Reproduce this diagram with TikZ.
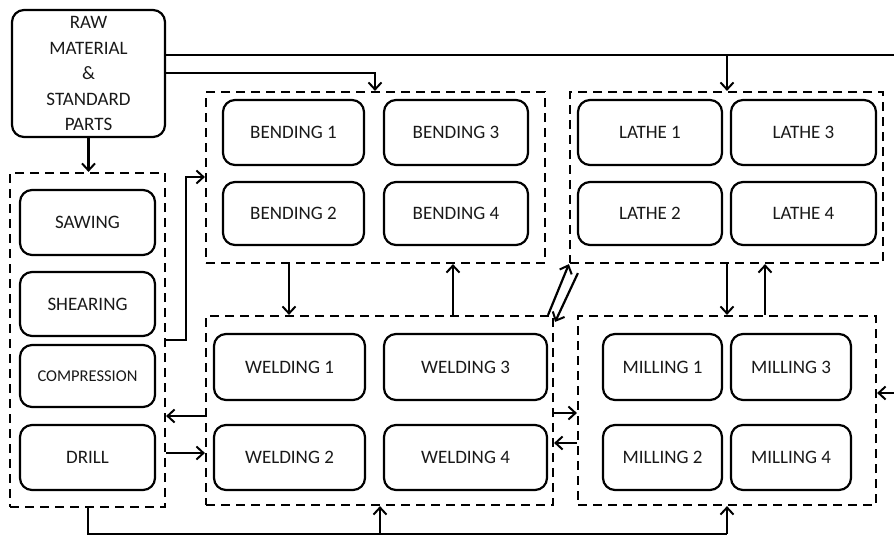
\documentclass[tikz,border=0pt]{standalone}
\usepackage{fontspec}
\setmainfont{Carlito}
\usetikzlibrary{arrows.meta}
\newcommand\mybox[6]{%
  \node[box, minimum width={(#4-#2)*1pt}, minimum height={(#5-#3)*1pt}] (#1) at ({(#2+#4)/2},{(#3+#5)/2}) {#6};}
\newcommand\mygrp[5]{%
  \node[grp, minimum width={(#4-#2)*1pt}, minimum height={(#5-#3)*1pt}] (#1) at ({(#2+#4)/2},{(#3+#5)/2}) {};}
\tikzset{
  box/.style={draw, line width=2.2pt, rounded corners=12pt, align=center, inner sep=0pt,
    text=black!90, font=\fontsize{19}{25.5}\selectfont},
  grp/.style={draw, line width=2.2pt, dash pattern=on 9pt off 6pt, inner sep=0pt},
  ln/.style={line width=2.2pt},
  arr/.style={line width=2.2pt, -{Straight Barb[length=7pt,width=13pt,line width=2pt]}},
}
\begin{document}
\begin{tikzpicture}[x=1pt,y=-1pt]
\useasboundingbox (0,0) rectangle (894,538);
% groups
\mygrp{L}{10}{173}{165}{507}
\mygrp{B}{206}{92}{545}{263}
\mygrp{T}{570}{92}{883}{263}
\mygrp{W}{206}{316}{553}{505}
\mygrp{M}{578}{316}{876}{505}
% raw material
\mybox{R}{12}{10}{165}{137}{RAW\\MATERIAL\\\&\\STANDARD\\PARTS}
% left column
\mybox{saw}{20}{190}{155}{255}{SAWING}
\mybox{shear}{20}{272}{155}{336}{SHEARING}
\mybox{comp}{20}{345}{155}{407}{\fontsize{16.5}{20}\selectfont COMPRESSION}
\mybox{drill}{20}{425}{155}{490}{DRILL}
% bending
\mybox{b1}{223}{100}{364}{165}{BENDING 1}
\mybox{b3}{384}{100}{528}{165}{BENDING 3}
\mybox{b2}{223}{182}{364}{245}{BENDING 2}
\mybox{b4}{384}{182}{528}{245}{BENDING 4}
% lathe
\mybox{l1}{578}{100}{722}{165}{LATHE 1}
\mybox{l3}{731}{100}{876}{165}{LATHE 3}
\mybox{l2}{578}{182}{722}{245}{LATHE 2}
\mybox{l4}{731}{182}{876}{245}{LATHE 4}
% welding
\mybox{w1}{214}{334}{365}{400}{WELDING 1}
\mybox{w3}{384}{334}{547}{400}{WELDING 3}
\mybox{w2}{214}{425}{365}{490}{WELDING 2}
\mybox{w4}{384}{425}{547}{490}{WELDING 4}
% milling
\mybox{m1}{603}{334}{722}{400}{MILLING 1}
\mybox{m3}{731}{334}{851}{400}{MILLING 3}
\mybox{m2}{603}{425}{722}{490}{MILLING 2}
\mybox{m4}{731}{425}{851}{490}{MILLING 4}
% free ends
\coordinate (rightA) at (894,55);
\coordinate (rightB) at (894,393);
\coordinate (botL) at (88,534);
% connectors
\draw[arr] (R.south) -- (L.north -| R.south);
\draw[ln] (R.east |- 0,55) -- (rightA);
\draw[arr] (727,55) -- (T.north -| 727,0);
\draw[arr] (R.east |- 0,73) -| (B.north -| 375,0);
\draw[arr] (rightB) -- (M.east |- rightB);
\draw[arr] (L.east |- 0,340) -- (186,340) |- (B.west |- 0,177);
\draw[arr] (B.south -| 289,0) -- (W.north -| 289,0);
\draw[arr] (W.north -| 453,0) -- (B.south -| 453,0);
\draw[arr] ([xshift=-6pt]W.north east) -- (T.south west);
\draw[arr] ([xshift=9pt,yshift=-9pt]T.south west) -- ([xshift=1pt,yshift=-7pt]W.north east);
\draw[arr] (W.east |- 0,413) -- (M.west |- 0,413);
\draw[arr] (M.west |- 0,443) -- (W.east |- 0,443);
\draw[arr] (T.south -| 727,0) -- (M.north -| 727,0);
\draw[arr] (M.north -| 765,0) -- (T.south -| 765,0);
\draw[arr] (W.west |- 0,416) -- (L.east |- 0,416);
\draw[arr] (L.east |- 0,453) -- (W.west |- 0,453);
\draw[ln] (L.south -| botL) -- (botL) -- (727,534);
\draw[arr] (380,534) -- (W.south -| 380,0);
\draw[arr] (727,534) -- (M.south -| 727,0);
\end{tikzpicture}
\end{document}
